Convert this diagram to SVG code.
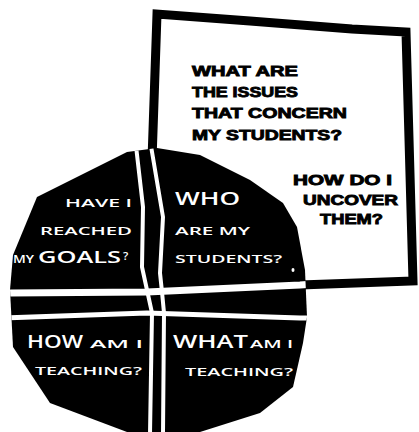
<svg xmlns="http://www.w3.org/2000/svg" width="419" height="432" viewBox="0 0 419 432">
<defs>
<style>
.w{fill:#fff;font-family:"Open Sans","Liberation Sans",sans-serif;font-weight:600}
.s{font-size:11.5px}
.b{font-size:18px}
.k{fill:#000;stroke:#000;stroke-width:0.9px;font-family:"Liberation Sans","DejaVu Sans",sans-serif;font-weight:bold;font-size:15px}
.band{fill:none;stroke:#fff;stroke-linecap:butt;stroke-linejoin:round}
</style>
<clipPath id="blobClip">
<path d="M127,152 L157,148 L200,155 L250,180 L283,203 L297,227 L305,270 L307,317 L303,343 L293,387 L260,413 L200,432 L127,432 L50,403 L13,347 L10,290 L13,255 L37,197 Z"/>
</clipPath>
</defs>
<rect width="419" height="432" fill="#fff"/>
<g id="frame">
<path d="M152,160 L157,14 L250,21 L352,29 L406,32 L413,281 L300,285" fill="#fff" stroke="#000" stroke-width="9" stroke-linejoin="miter"/>
<text class="k" x="192" y="76" textLength="106" lengthAdjust="spacingAndGlyphs">WHAT ARE</text>
<text class="k" x="192" y="97" textLength="106" lengthAdjust="spacingAndGlyphs">THE ISSUES</text>
<text class="k" x="192" y="118" textLength="155" lengthAdjust="spacingAndGlyphs">THAT CONCERN</text>
<text class="k" x="192" y="140" textLength="150" lengthAdjust="spacingAndGlyphs">MY STUDENTS?</text>
<text class="k" x="293" y="185" textLength="99" lengthAdjust="spacingAndGlyphs">HOW DO I</text>
<text class="k" x="303" y="205" textLength="95" lengthAdjust="spacingAndGlyphs">UNCOVER</text>
<text class="k" x="320" y="224" textLength="63" lengthAdjust="spacingAndGlyphs">THEM?</text>
</g>
<g id="wheel">
<path d="M127,152 L157,148 L200,155 L250,180 L283,203 L297,227 L305,270 L307,317 L303,343 L293,387 L260,413 L200,432 L127,432 L50,403 L13,347 L10,290 L13,255 L37,197 Z" fill="#000"/>
</g>
<g id="connectors" clip-path="url(#blobClip)">
<path class="band" stroke-width="4" d="M136,146 L143,207 L142,267 L147,290 L152,313 L150,434"/>
<path class="band" stroke-width="4" d="M151,146 L163,217 L160,273 L162,292 L164,313 L163,434"/>
<path class="band" stroke-width="7" d="M5,293 L147,292 L300,285 L312,284"/>
<path class="band" stroke-width="5" d="M5,318 L147,313 L300,318 L312,318"/>
</g>
<g id="q-goals">
<text class="w s" x="65" y="207" textLength="67" lengthAdjust="spacingAndGlyphs">HAVE I</text>
<text class="w s" x="40" y="235" textLength="92" lengthAdjust="spacingAndGlyphs">REACHED</text>
<text class="w s" x="13" y="263" textLength="21" lengthAdjust="spacingAndGlyphs">MY</text>
<text class="w" x="38" y="263" font-size="17" textLength="83" lengthAdjust="spacingAndGlyphs">GOALS</text>
<text class="w s" x="123" y="260">?</text>
</g>
<g id="q-who">
<text class="w b" x="175" y="205" textLength="65" lengthAdjust="spacingAndGlyphs">WHO</text>
<text class="w s" x="175" y="235" textLength="75" lengthAdjust="spacingAndGlyphs">ARE MY</text>
<text class="w s" x="175" y="263" textLength="107" lengthAdjust="spacingAndGlyphs">STUDENTS?</text>
<ellipse cx="293" cy="270" rx="1.5" ry="2" fill="#fff"/>
</g>
<g id="q-how">
<text class="w b" x="27" y="348" textLength="56" lengthAdjust="spacingAndGlyphs">HOW</text>
<text class="w s" x="90" y="348" textLength="53" lengthAdjust="spacingAndGlyphs">AM I</text>
<text class="w s" x="35" y="375" textLength="107" lengthAdjust="spacingAndGlyphs">TEACHING?</text>
</g>
<g id="q-what">
<text class="w b" x="173" y="348" textLength="75" lengthAdjust="spacingAndGlyphs">WHAT</text>
<text class="w s" x="250" y="348" textLength="43" lengthAdjust="spacingAndGlyphs">AM I</text>
<text class="w s" x="185" y="376" textLength="108" lengthAdjust="spacingAndGlyphs">TEACHING?</text>
</g>
</svg>
